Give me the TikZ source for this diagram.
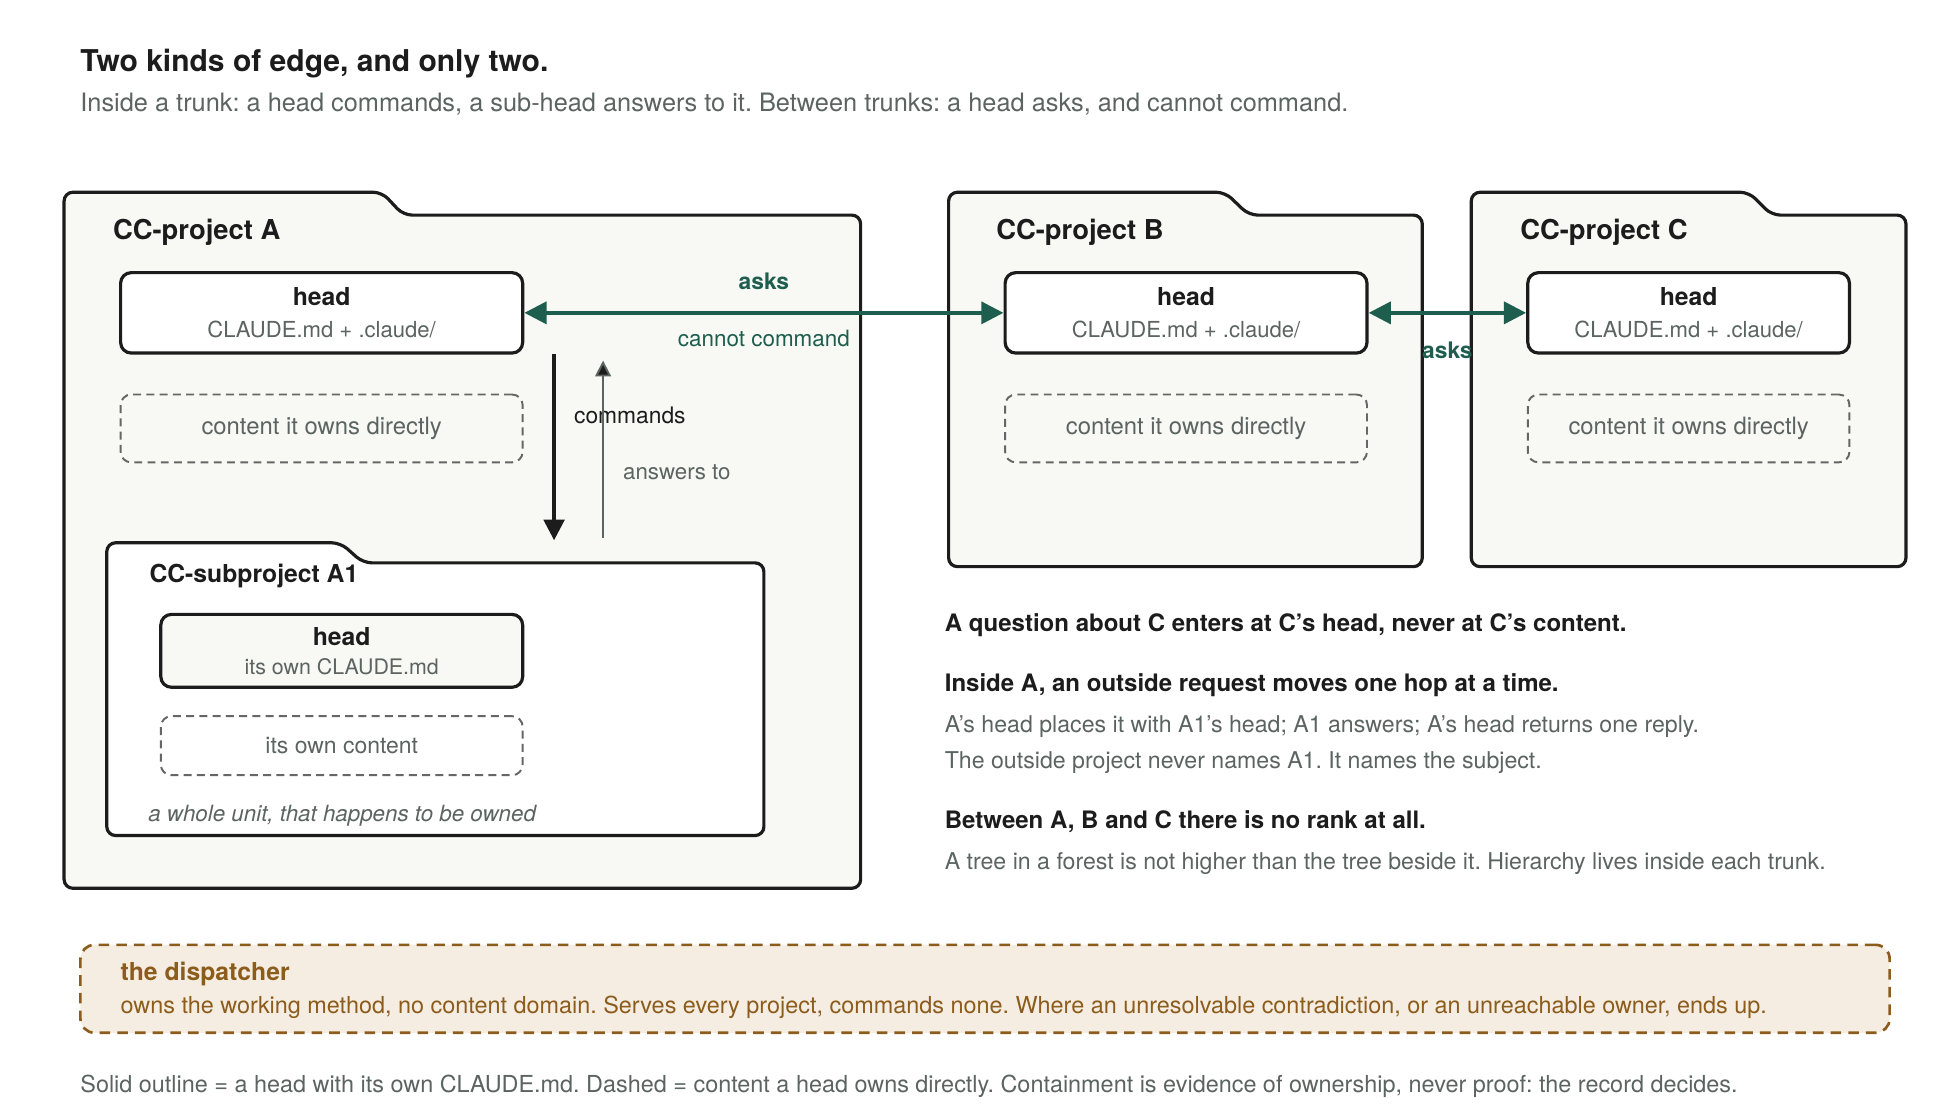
\documentclass[tikz,border=0pt]{standalone}
\usepackage{xcolor}
\usepackage{fontspec}
\setmainfont{TeX Gyre Heros}
\usepackage{tikz}
\usetikzlibrary{calc,positioning,arrows.meta}

\definecolor{ink}{HTML}{1C1C1C}
\definecolor{inkgray}{HTML}{5B6460}
\definecolor{inkgreen}{HTML}{1E5E4E}
\definecolor{folderbg}{HTML}{F8F8F4}
\definecolor{dashgray}{HTML}{666666}
\definecolor{dispbg}{HTML}{F5EDE1}
\definecolor{dispbrown}{HTML}{8C5C1C}

\newcommand{\headlabel}{\fontsize{14}{16}\selectfont\bfseries\color{ink}}
\frenchspacing

\begin{document}
\begin{tikzpicture}[
    every node/.style={inner sep=0pt, outer sep=0pt},
    folder/.style={draw=ink, line width=1.8pt, fill=folderbg, rounded corners=5pt},
    subfolder/.style={folder, fill=white},
    foldertext/.style={anchor=mid west, text=ink, font=\fontsize{15.5}{18}\selectfont\bfseries},
    headbox/.style={draw=ink, line width=1.8pt, fill=white, rounded corners=6pt, align=center,
        minimum width=8cm, minimum height=1.6cm, text=inkgray, font=\fontsize{12.5}{18.5}\selectfont},
    subhead/.style={headbox, fill=folderbg, minimum width=7.2cm, minimum height=1.45cm,
        font=\fontsize{12.1}{16.4}\selectfont},
    ownbox/.style={draw=dashgray, line width=1.1pt, dash pattern=on 4.5pt off 3pt, rounded corners=6pt,
        minimum width=8cm, minimum height=1.35cm, text=inkgray, font=\fontsize{13.5}{16}\selectfont},
    askarrow/.style={draw=inkgreen, line width=1.9pt, {Triangle[length=12.5pt, width=12.5pt]}-{Triangle[length=12.5pt, width=12.5pt]}, shorten <=1pt, shorten >=1pt},
    cmdarrow/.style={draw=ink, line width=1.9pt, -{Triangle[length=11.7pt, width=11.7pt]}},
    ansarrow/.style={draw=inkgray, line width=1.1pt, -{Triangle[length=9pt, width=9pt, fill=ink]}},
    bodytext/.style={anchor=mid west, text=inkgray, font=\fontsize{13.1}{16}\selectfont},
    boldtext/.style={anchor=mid west, text=ink, font=\fontsize{13.6}{16}\selectfont\bfseries},
    asktext/.style={anchor=mid, text=inkgreen, font=\fontsize{12.9}{16}\selectfont\bfseries}
]
    \fill[white] (0,0) rectangle (39,-22.2857);
    \useasboundingbox (0,0) rectangle (39,-22.2857);

    \node [anchor=mid west, text=ink, font=\fontsize{17}{20}\selectfont\bfseries] (title) at (1.6,-1.325) {Two kinds of edge, and only two.};
    \node [bodytext, font=\fontsize{14.35}{17}\selectfont] (lead) at (1.6,-2.125) {Inside a trunk: a head commands, a sub-head answers to it. Between trunks: a head asks, and cannot command.};

    % project A
    \draw [folder] (1.275,-17.675) -- (1.275,-3.825) -- (7.6,-3.825) -- (8.025,-4.28) -- (17.125,-4.28) -- (17.125,-17.675) -- cycle;
    \node [foldertext] (labelA) at (2.25,-4.675) {CC-project A};
    \node [headbox] (headA) at (6.4,-6.225) {{\headlabel head}\\CLAUDE.md + .claude/};
    \node [ownbox, below=0.825cm of headA] (ownA) {content it owns directly};

    \node [anchor=mid west, text=ink, font=\fontsize{12.9}{16}\selectfont] (cmdlabel) at (11.425,-8.325) {commands};
    \node [bodytext, font=\fontsize{12.6}{16}\selectfont] (anslabel) at (12.4,-9.45) {answers to};
    \coordinate (cmdtop) at (11.025,-7.05);
    \coordinate (cmdbot) at (11.025,-10.75);
    \coordinate (anstop) at (12,-7.175);
    \coordinate (ansbot) at (12,-10.7);
    \draw [cmdarrow] (cmdtop) -- (cmdbot);
    \draw [ansarrow] (ansbot) -- (anstop);

    % subproject A1
    \draw [subfolder] (2.125,-16.625) -- (2.125,-10.8) -- (6.775,-10.8) -- (7.225,-11.2) -- (15.2,-11.2) -- (15.2,-16.625) -- cycle;
    \node [foldertext, font=\fontsize{14}{16}\selectfont\bfseries] (labelA1) at (2.975,-11.5) {CC-subproject A1};
    \node [subhead] (headA1) at (6.8,-12.95) {{\headlabel head}\\its own CLAUDE.md};
    \node [ownbox, below=0.575cm of headA1, minimum width=7.2cm, minimum height=1.175cm, font=\fontsize{13}{16}\selectfont] (ownA1) {its own content};
    \node [bodytext, font=\fontsize{12.65}{16}\selectfont\itshape] (unitnote) at (2.95,-16.25) {a whole unit, that happens to be owned};

    % projects B and C
    \draw [folder] (18.875,-11.275) -- (18.875,-3.825) -- (24.375,-3.825) -- (24.85,-4.28) -- (28.3,-4.28) -- (28.3,-11.275) -- cycle;
    \node [foldertext] (labelB) at (19.825,-4.675) {CC-project B};
    \node [headbox, minimum width=7.2cm] (headB) at (23.6,-6.225) {{\headlabel head}\\CLAUDE.md + .claude/};
    \node [ownbox, below=0.825cm of headB, minimum width=7.2cm] (ownB) {content it owns directly};

    \draw [folder] (29.275,-11.275) -- (29.275,-3.825) -- (34.8,-3.825) -- (35.25,-4.28) -- (37.925,-4.28) -- (37.925,-11.275) -- cycle;
    \node [foldertext] (labelC) at (30.25,-4.675) {CC-project C};
    \node [headbox, minimum width=6.4cm] (headC) at (33.6,-6.225) {{\headlabel head}\\CLAUDE.md + .claude/};
    \node [ownbox, below=0.825cm of headC, minimum width=6.4cm] (ownC) {content it owns directly};

    % asking between trunks
    \draw [askarrow] (headA.east) -- (headB.west)
        node [asktext, midway, yshift=0.55cm] {asks}
        node [asktext, midway, yshift=-0.575cm, font=\fontsize{12.7}{16}\selectfont] {cannot command};
    \draw [askarrow] (headB.east) -- (headC.west)
        node [asktext, midway, yshift=-0.825cm] {asks};

    % notes
    \node [boldtext] (note1) at (18.8,-12.475) {A question about C enters at C’s head, never at C’s content.};
    \node [boldtext] (note2) at (18.8,-13.675) {Inside A, an outside request moves one hop at a time.};
    \node [bodytext] (note2a) at (18.8,-14.475) {A’s head places it with A1’s head; A1 answers; A’s head returns one reply.};
    \node [bodytext] (note2b) at (18.8,-15.2) {The outside project never names A1. It names the subject.};
    \node [boldtext] (note3) at (18.8,-16.4) {Between A, B and C there is no rank at all.};
    \node [bodytext] (note3a) at (18.8,-17.2) {A tree in a forest is not higher than the tree beside it. Hierarchy lives inside each trunk.};

    % dispatcher
    \node [draw=dispbrown, fill=dispbg, line width=1.5pt, dash pattern=on 6pt off 4pt, rounded corners=8pt,
        minimum width=36cm, minimum height=1.75cm] (dispatch) at (19.6,-19.675) {};
    \node [anchor=mid west, text=dispbrown, font=\fontsize{14}{16}\selectfont\bfseries] (disptitle) at ($(dispatch.west)+(0.8,0.25)$) {the dispatcher};
    \node [anchor=mid west, text=dispbrown, font=\fontsize{13.25}{16}\selectfont] (disptext) at ($(dispatch.west)+(0.8,-0.4)$) {owns the working method, no content domain. Serves every project, commands none. Where an unresolvable contradiction, or an unreachable owner, ends up.};

    \node [bodytext, font=\fontsize{13.25}{16}\selectfont] (footer) at (1.6,-21.65) {Solid outline = a head with its own CLAUDE.md. Dashed = content a head owns directly. Containment is evidence of ownership, never proof: the record decides.};
\end{tikzpicture}
\end{document}
